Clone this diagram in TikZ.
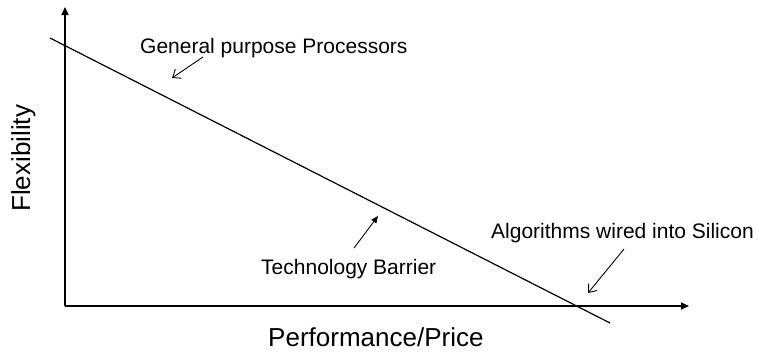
\documentclass[tikz,border=0pt]{standalone}
\usepackage{fontspec}
\setmainfont{Liberation Sans}
\usetikzlibrary{arrows.meta}
\tikzset{
  axis/.style={line width=1.6pt,-{Triangle[length=8pt,width=7pt]}},
  barrier/.style={line width=1.2pt},
  openarrow/.style={line width=0.9pt,-{Straight Barb[length=7pt,width=11pt]}},
  fillarrow/.style={line width=0.9pt,-{Triangle[length=7pt,width=6pt]}},
  lbl/.style={font=\fontsize{21}{24}\selectfont,inner sep=0pt,anchor=base west},
  axlbl/.style={font=\fontsize{26}{29}\selectfont,inner sep=0pt,anchor=base west}
}
\begin{document}
\begin{tikzpicture}[x=1pt,y=-1pt]
\useasboundingbox (0,0) rectangle (757,351);
% axes
\coordinate (origin) at (65,306);
\coordinate (ytip) at (65,7);
\coordinate (xtip) at (689,306);
\draw[axis] (origin) -- (ytip);
\draw[axis] (origin) -- (xtip);
\node[axlbl,rotate=90] (flex) at (30,212) {Flexibility};
\node[axlbl] (perf) at (268,346) {Performance/Price};
% the trade-off line
\coordinate (lineA) at (50,38);
\coordinate (lineB) at (610,323);
\draw[barrier] (lineA) -- (lineB);
% labels and pointers
\node[lbl] (gpp) at (140,53) {General purpose Processors};
\coordinate (gppS) at (203,57);
\coordinate (gppT) at (172,78);
\draw[openarrow] (gppS) -- (gppT);
\node[lbl] (tech) at (261,274) {Technology Barrier};
\coordinate (techS) at (354,248);
\coordinate (techT) at (378,216);
\draw[fillarrow] (techS) -- (techT);
\node[lbl] (algo) at (491,238) {Algorithms wired into Silicon};
\coordinate (algoS) at (624,249);
\coordinate (algoT) at (588,293);
\draw[openarrow] (algoS) -- (algoT);
\end{tikzpicture}
\end{document}
